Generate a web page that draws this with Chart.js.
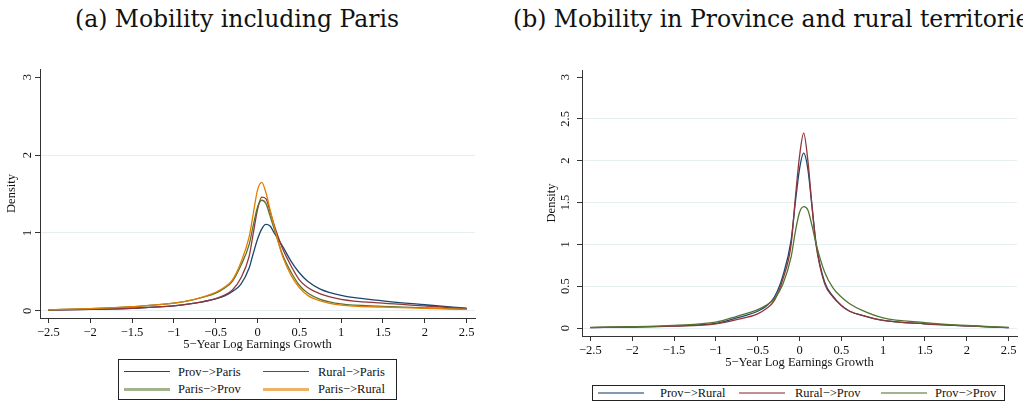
<!DOCTYPE html>
<html>
<head>
<meta charset="utf-8">
<script src="https://cdn.jsdelivr.net/npm/chart.js@4.4.1/dist/chart.umd.min.js"></script>
<style>
  html, body { margin: 0; padding: 0; width: 1023px; height: 403px; overflow: hidden; background: #fff; }
  .title { position: absolute; top: 4px; font-family: "DejaVu Serif", serif; font-size: 23.5px; line-height: 30px; color: #111; white-space: nowrap; }
  canvas { position: absolute; }
  .legend { position: absolute; border: 1px solid #222; box-sizing: border-box; }
  .key { position: absolute; }
  .lab { position: absolute; font-family: "Liberation Serif", "Times New Roman", serif; font-size: 12.5px; line-height: 16px; color: #111; white-space: nowrap; }
</style>
</head>
<body>
<div class="title" style="left:75px">(a) Mobility including Paris</div>
<div class="title" style="left:513px">(b) Mobility in Province and rural territories</div>
<canvas id="left" width="500" height="292" style="left:0;top:60px"></canvas>
<canvas id="right" width="483" height="310" style="left:540px;top:60px"></canvas>
<div id="legendLeft" class="legend" style="left:118px;top:359px;width:279px;height:41px"></div>
<div id="legendRight" class="legend" style="left:592px;top:385px;width:413px;height:16px"></div>
<script>
// x grid of the density estimates (5-year log earnings growth)
const growthGrid = [-2.5, -2, -1.5, -1, -0.75, -0.5, -0.4, -0.3, -0.2, -0.1, -0.05, 0, 0.05, 0.1, 0.15, 0.2, 0.3, 0.4, 0.5, 0.6, 0.75, 1, 1.5, 2, 2.5];

// panel (a)
const provParis  = [0.01, 0.02, 0.035, 0.065, 0.1, 0.155, 0.19, 0.25, 0.34, 0.55, 0.74, 0.92, 1.05, 1.11, 1.09, 1.0, 0.83, 0.64, 0.49, 0.38, 0.28, 0.2, 0.13, 0.08, 0.035];
const ruralParis = [0.01, 0.02, 0.035, 0.065, 0.1, 0.16, 0.2, 0.27, 0.42, 0.7, 1.0, 1.3, 1.46, 1.44, 1.28, 1.1, 0.8, 0.58, 0.4, 0.3, 0.22, 0.15, 0.1, 0.065, 0.03];
const parisProv  = [0.015, 0.03, 0.055, 0.1, 0.15, 0.23, 0.29, 0.38, 0.58, 0.85, 1.1, 1.33, 1.42, 1.38, 1.22, 1.05, 0.72, 0.5, 0.33, 0.23, 0.15, 0.09, 0.06, 0.04, 0.02];
const parisRural = [0.015, 0.03, 0.055, 0.1, 0.15, 0.24, 0.3, 0.4, 0.62, 0.95, 1.25, 1.55, 1.65, 1.52, 1.3, 1.08, 0.7, 0.46, 0.3, 0.2, 0.13, 0.075, 0.05, 0.035, 0.02];

// panel (b)
const provRural  = [0.005, 0.012, 0.025, 0.055, 0.12, 0.2, 0.26, 0.37, 0.62, 1.05, 1.5, 1.9, 2.09, 1.9, 1.45, 1.0, 0.55, 0.38, 0.27, 0.2, 0.15, 0.09, 0.05, 0.025, 0.005];
const ruralProv  = [0.005, 0.01, 0.022, 0.05, 0.1, 0.17, 0.23, 0.33, 0.58, 1.0, 1.55, 2.05, 2.33, 2.0, 1.45, 0.98, 0.53, 0.37, 0.27, 0.2, 0.15, 0.09, 0.05, 0.025, 0.005];
const provProv   = [0.007, 0.015, 0.032, 0.07, 0.14, 0.22, 0.27, 0.35, 0.52, 0.85, 1.15, 1.38, 1.45, 1.41, 1.22, 1.0, 0.67, 0.48, 0.37, 0.29, 0.21, 0.12, 0.065, 0.03, 0.006];

const leftNames  = ["Prov\u2212>Paris", "Rural\u2212>Paris", "Paris\u2212>Prov", "Paris\u2212>Rural"];
const rightNames = ["Prov\u2212>Rural", "Rural\u2212>Prov", "Prov\u2212>Prov"];

const xTickValues = [-2.5, -2, -1.5, -1, -0.5, 0, 0.5, 1, 1.5, 2, 2.5];
const xTickLabels = ["\u22122.5", "\u22122", "\u22121.5", "\u22121", "\u22120.5", "0", "0.5", "1", "1.5", "2", "2.5"];
const leftYTicks  = [0, 1, 2, 3];
const leftYLabels = ["0", "1", "2", "3"];
const rightYTicks  = [0, 0.5, 1, 1.5, 2, 2.5, 3];
const rightYLabels = ["0", "0.5", "1", "1.5", "2", "2.5", "3"];

const navy = "#1a476f", maroon = "#90353b", green = "#55752f", orange = "#e37e00";
const serif = { family: "'Liberation Serif', 'Times New Roman', serif", size: 12.5 };
const ink = "#111";
const axisGray = "#333";

function densityChart(id, names, series, colors, y, layout) {
  return new Chart(document.getElementById(id), {
    type: "line",
    data: {
      datasets: series.map((s, k) => ({
        label: names[k],
        data: growthGrid.map((g, i) => ({ x: g, y: s[i] })),
        borderColor: colors[k],
        borderWidth: 1.3,
        pointRadius: 0,
        fill: false,
        cubicInterpolationMode: "monotone",
        order: series.length - k,
      })),
    },
    options: {
      responsive: false,
      animation: false,
      devicePixelRatio: 1,
      layout: { padding: layout.padding },
      plugins: { legend: { display: false }, tooltip: { enabled: false } },
      scales: {
        x: {
          type: "linear",
          min: -2.6,
          max: 2.6,
          afterBuildTicks: (s) => { s.ticks = xTickValues.map((v) => ({ value: v })); },
          afterFit: (s) => { s.height = 34; s.paddingLeft = 0; s.paddingRight = 0; },
          ticks: { callback: (v, i) => xTickLabels[i], autoSkip: false, minRotation: 0, maxRotation: 0, padding: 2, color: ink, font: serif },
          grid: { display: true, drawOnChartArea: false, drawTicks: true, tickLength: 5, tickColor: axisGray },
          border: { display: true, color: axisGray, width: 1 },
          title: { display: true, text: "5\u2212Year Log Earnings Growth", color: ink, font: serif, padding: { top: 0, bottom: 0 } },
        },
        y: {
          type: "linear",
          min: y.min,
          max: y.max,
          afterBuildTicks: (s) => { s.ticks = y.ticks.map((v) => ({ value: v })); },
          afterFit: (s) => { s.width = layout.yWidth; s.paddingTop = 0; s.paddingBottom = 0; },
          ticks: { callback: (v, i) => y.labels[i], minRotation: 90, maxRotation: 90, crossAlign: "center", padding: layout.yPad, color: ink, font: serif },
          grid: {
            display: true,
            drawOnChartArea: true,
            drawTicks: true,
            tickLength: 5,
            tickColor: axisGray,
            color: (ctx) => (ctx.tick && ctx.tick.value === y.ticks[y.ticks.length - 1] ? "rgba(0,0,0,0)" : "#e6eff0"),
          },
          border: { display: true, color: axisGray, width: 1 },
          title: { display: true, text: "Density", color: ink, font: serif, padding: { top: 4, bottom: 0 } },
        },
      },
    },
  });
}

densityChart("left", leftNames, [provParis, ruralParis, parisProv, parisRural], [navy, maroon, green, orange],
  { min: -0.09, max: 3.103, ticks: leftYTicks, labels: leftYLabels },
  { padding: { top: 9, right: 25, left: 0, bottom: 0 }, yWidth: 40, yPad: 4 });

densityChart("right", rightNames, [provRural, ruralProv, provProv], [navy, maroon, green],
  { min: -0.0956, max: 3.084, ticks: rightYTicks, labels: rightYLabels },
  { padding: { top: 10, right: 6, left: 0, bottom: 0 }, yWidth: 42, yPad: 3 });

// legends drawn as in the original: boxed, line sample + label
function legend(id, names, keys) {
  const box = document.getElementById(id);
  names.forEach((name, k) => {
    const key = keys[k];
    const line = document.createElement("div");
    line.className = "key";
    line.style.left = key.x + "px";
    line.style.top = (key.y - key.w / 2) + "px";
    line.style.width = "46px";
    line.style.height = key.w + "px";
    line.style.background = key.c;
    box.appendChild(line);
    const t = document.createElement("div");
    t.className = "lab";
    t.textContent = name;
    t.style.left = key.tx + "px";
    t.style.top = (key.y - 8) + "px";
    box.appendChild(t);
  });
}

legend("legendLeft", leftNames, [
  { x: 5, tx: 59, y: 11.7, w: 1, c: navy },
  { x: 144, tx: 199, y: 11.7, w: 1, c: maroon },
  { x: 5, tx: 59, y: 29.3, w: 2.5, c: "rgba(85,117,47,0.55)" },
  { x: 144, tx: 199, y: 29.3, w: 2.5, c: "rgba(227,126,0,0.6)" },
]);
legend("legendRight", rightNames, [
  { x: 5, tx: 67, y: 7, w: 2.5, c: "rgba(26,71,111,0.55)" },
  { x: 146, tx: 202, y: 7, w: 2.5, c: "rgba(144,53,59,0.55)" },
  { x: 288, tx: 342, y: 7, w: 2.5, c: "rgba(85,117,47,0.55)" },
]);
</script>
</body>
</html>
